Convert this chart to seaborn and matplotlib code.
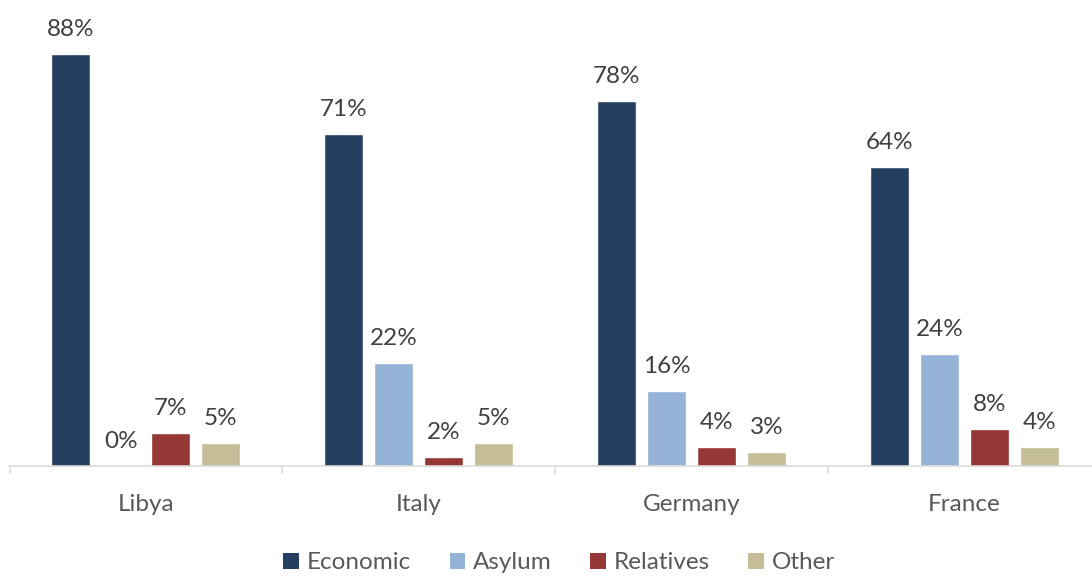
import matplotlib
matplotlib.use('Agg')
import matplotlib.pyplot as plt
import pandas as pd
import seaborn as sns
from matplotlib.patches import Patch

# Data
countries = ['Libya', 'Italy', 'Germany', 'France']
reasons = ['Economic', 'Asylum', 'Relatives', 'Other']
economic = [88, 71, 78, 64]
asylum = [0, 22, 16, 24]
relatives = [7, 2, 4, 8]
other = [5, 5, 3, 4]
colors = ['#243F60', '#95B3D7', '#953735', '#C4BD97']

rows = []
for series, vals in zip(reasons, [economic, asylum, relatives, other]):
    for c, v in zip(countries, vals):
        rows.append({'Country': c, 'Reason': series, 'Share': v})
df = pd.DataFrame(rows)

sns.set_style('white')
plt.rcParams['font.family'] = ['Lato', 'DejaVu Sans']

fig = plt.figure(figsize=(10.92, 5.79), dpi=100)
ax = fig.add_axes([9 / 1092, 113 / 579, 1 - 9 / 1092, 1 - 113 / 579])

sns.barplot(data=df, x='Country', y='Share', hue='Reason', order=countries,
            hue_order=reasons, palette=colors, width=0.733, gap=0.22,
            saturation=1, legend=False, ax=ax)

# data labels
for container in ax.containers:
    for bar in container:
        h = bar.get_height()
        ax.annotate(f'{h:.0f}%', (bar.get_x() + bar.get_width() / 2, h),
                    xytext=(0, 10), textcoords='offset points',
                    ha='center', va='bottom', fontsize=17.5, color='#404040')

ax.set_ylim(0, 99.6)
ax.set_xlim(-0.502, 3.468)
ax.set_xlabel('')
ax.set_ylabel('')
ax.set_yticks([])
for s in ['top', 'right', 'left']:
    ax.spines[s].set_visible(False)
ax.spines['bottom'].set_color('#D9D9D9')
ax.spines['bottom'].set_linewidth(1.1)

# category boundary ticks
ax.set_xticks([-0.5, 0.5, 1.5, 2.5], minor=True)
ax.tick_params(axis='x', which='minor', length=6, width=1.1, color='#D9D9D9',
               direction='out', bottom=True)
ax.tick_params(axis='x', which='major', length=0, pad=20, labelsize=17.5,
               labelcolor='#595959')

handles = [Patch(facecolor=c, edgecolor='none', label=r) for c, r in zip(colors, reasons)]
fig.legend(handles=handles, loc='lower center', bbox_to_anchor=(0.512, -0.028), ncol=4,
           frameon=False, fontsize=17.5, handlelength=0.65, handleheight=0.65,
           handletextpad=0.3, columnspacing=1.6, labelcolor='#595959')

fig.savefig('out.png', dpi=100)
